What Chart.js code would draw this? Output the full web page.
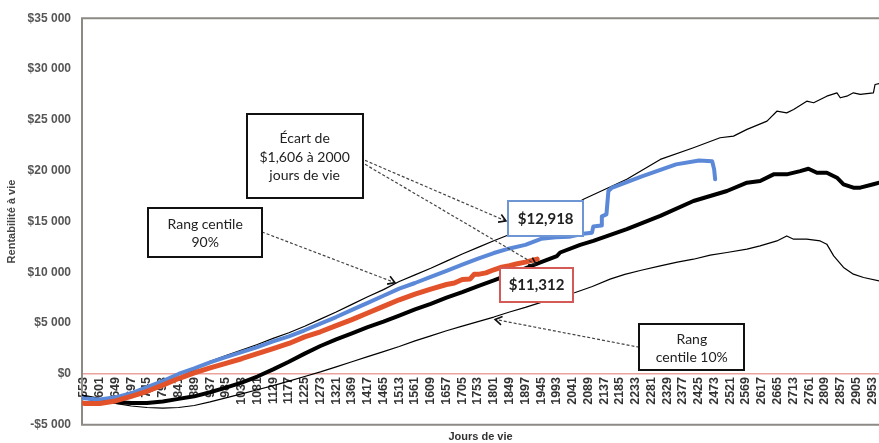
<!DOCTYPE html>
<html><head><meta charset="utf-8">
<script src="https://cdn.jsdelivr.net/npm/chart.js@4"></script>
<style>html,body{margin:0;padding:0;background:#fff;}#wrap{width:879px;height:443px;position:relative;}</style>
</head><body><div id="wrap"><canvas id="c"></canvas></div>
<script>
// ---------- data ----------
const xTickLabels = [553,601,649,697,745,793,841,889,937,985,1033,1081,1129,1177,1225,1273,1321,1369,1417,1465,1513,1561,1609,1657,1705,1753,1801,1849,1897,1945,1993,2041,2089,2137,2185,2233,2281,2329,2377,2425,2473,2521,2569,2617,2665,2713,2761,2809,2857,2905,2953];
const yTickValues = [-5000,0,5000,10000,15000,20000,25000,30000,35000];

const medianDays = [547,553,601,649,697,745,793,841,889,937,985,1033,1081,1129,1177,1225,1273,1321,1369,1417,1465,1513,1561,1609,1657,1705,1753,1801,1849,1897,1945,1993,2003,2064,2104,2206,2308,2409,2511,2572,2612,2653,2693,2734,2759,2785,2815,2846,2866,2896,2917,2957,2975];
const medianVals = [-2250,-2300,-2600,-2750,-2850,-2850,-2700,-2450,-2200,-1800,-1350,-850,-250,450,1200,2000,2750,3400,4000,4600,5150,5750,6350,6900,7500,8050,8650,9200,9800,10400,11000,11600,11950,12700,13090,14240,15550,17020,18000,18820,18990,19640,19640,19960,20190,19800,19800,19310,18660,18330,18330,18660,18820];

const p90Days = [547,553,601,649,697,745,793,841,889,937,985,1033,1081,1129,1177,1225,1273,1321,1369,1417,1465,1513,1561,1609,1657,1705,1753,1801,1851,1897,1945,2000,2040,2074,2206,2308,2409,2490,2531,2572,2633,2663,2693,2714,2754,2775,2795,2815,2846,2856,2876,2896,2917,2957,2962,2975];
const p90Vals = [-2050,-2100,-2400,-2500,-2300,-1900,-1200,-400,400,1250,1800,2350,2900,3500,4050,4700,5400,6100,6850,7600,8300,9100,9750,10400,11100,11800,12450,13100,13750,14400,15100,15900,16500,17190,19150,21110,22260,23240,23400,24060,24870,25850,25690,26020,26840,26680,27000,27330,27660,27170,27330,27660,27500,27660,28480,28580];

const p10Days = [547,553,601,649,697,745,793,841,889,937,985,1033,1081,1129,1177,1225,1273,1321,1369,1417,1465,1513,1561,1609,1657,1705,1753,1801,1849,1897,1945,1993,2049,2101,2155,2200,2250,2308,2360,2409,2460,2511,2572,2612,2663,2693,2714,2754,2795,2815,2836,2866,2896,2927,2975];
const p10Vals = [-2150,-2200,-2600,-2900,-3150,-3300,-3350,-3300,-3100,-2750,-2350,-1950,-1550,-1150,-700,-250,200,700,1200,1700,2200,2700,3250,3750,4250,4700,5150,5600,6100,6550,7050,7500,8020,8600,9330,9800,10200,10640,11000,11290,11700,11950,12280,12600,13090,13580,13260,13260,13090,12770,11620,10480,9820,9490,9160];

const blueDays = [547,553,601,649,697,745,793,841,889,937,985,1033,1081,1129,1177,1225,1273,1321,1369,1417,1465,1513,1561,1609,1657,1705,1753,1801,1849,1897,1945,1990,2030,2073,2100,2104,2128,2130,2144,2150,2160,2252,2356,2426,2466,2472,2475];
const blueVals = [-2350,-2400,-2500,-2300,-1900,-1300,-700,0,550,1150,1650,2150,2650,3200,3700,4300,4950,5600,6300,7000,7700,8400,8950,9550,10150,10750,11350,11900,12350,12700,13300,13450,13500,13800,13900,14500,14600,15500,15700,18000,18300,19440,20620,21010,20920,20130,19150];

const redDays = [547,553,601,649,697,745,793,841,889,937,985,1033,1081,1129,1177,1225,1273,1321,1369,1417,1465,1513,1561,1609,1657,1681,1705,1729,1741,1753,1777,1801,1825,1849,1873,1897,1921,1933];
const redVals = [-2850,-2900,-2900,-2650,-2200,-1700,-1100,-450,100,600,1050,1500,2000,2500,3000,3650,4150,4750,5350,6000,6650,7300,7850,8350,8800,8950,9300,9350,9800,9800,9950,10250,10500,10650,10850,11000,11200,11300];

// ---------- annotations (data coordinates) ----------
const annoBoxes = [
  {lines:['Écart de','$1,606 à 2000','jours de vie'], day:1225, val:21400, w:116, h:84, color:'#111', bold:false},
  {lines:['Rang centile','90%'], day:922, val:13924, w:114, h:49, color:'#111', bold:false},
  {lines:['$12,918'], day:1959, val:15293, w:75, h:35, color:'#6f96d4', bold:true},
  {lines:['$11,312'], day:1931, val:8790, w:73, h:34, color:'#d45a58', bold:true},
  {lines:['Rang','centile 10%'], day:2404, val:2628, w:105, h:46, color:'#111', bold:false}
];
const annoArrows = [
  {from:[1409,21015], to:[1838,15049]},
  {from:[1409,20624], to:[1930,10746]},
  {from:[1095,13973], to:[1500,8985]},
  {from:[2244,2628], to:[1805,5367]}
];

function pts(d,v){return d.map((x,i)=>({x:x,y:v[i]}));}
function money(v){
  const a=Math.abs(v); let s=String(a);
  if(a>=1000){s=s.slice(0,s.length-3)+' '+s.slice(-3);}
  return (v<0?'-$':'$')+s;
}

const framePlugin = {
  id:'frame',
  beforeDatasetsDraw(chart){
    const {ctx, chartArea:a} = chart;
    ctx.save();
    ctx.strokeStyle='#8d8a86'; ctx.lineWidth=2;
    ctx.beginPath();
    ctx.moveTo(a.right+2,a.top); ctx.lineTo(a.left,a.top); ctx.lineTo(a.left,a.bottom); ctx.lineTo(a.right+2,a.bottom);
    ctx.stroke();
    // x title
    ctx.fillStyle='#333'; ctx.font='bold 11px "Liberation Sans"'; ctx.textAlign='center'; ctx.textBaseline='middle';
    ctx.fillText('Jours de vie',(a.left+a.right)/2,437);
    ctx.restore();
  },
  afterDraw(chart){
    const {ctx, scales:{x,y}} = chart;
    ctx.save();
    // arrows
    annoArrows.forEach(ar=>{
      const x1=x.getPixelForValue(ar.from[0]), y1=y.getPixelForValue(ar.from[1]);
      const x2=x.getPixelForValue(ar.to[0]), y2=y.getPixelForValue(ar.to[1]);
      ctx.strokeStyle='#444'; ctx.lineWidth=1.2; ctx.setLineDash([3,2]);
      ctx.beginPath(); ctx.moveTo(x1,y1); ctx.lineTo(x2,y2); ctx.stroke();
      ctx.setLineDash([]);
      const ang=Math.atan2(y2-y1,x2-x1), L=8, sp=0.55;
      ctx.strokeStyle='#111'; ctx.lineWidth=1.6;
      ctx.beginPath();
      ctx.moveTo(x2-L*Math.cos(ang-sp), y2-L*Math.sin(ang-sp));
      ctx.lineTo(x2,y2);
      ctx.lineTo(x2-L*Math.cos(ang+sp), y2-L*Math.sin(ang+sp));
      ctx.stroke();
    });
    // boxes
    annoBoxes.forEach(b=>{
      const cx=x.getPixelForValue(b.day), cy=y.getPixelForValue(b.val);
      const l=Math.round(cx-b.w/2), t=Math.round(cy-b.h/2);
      ctx.fillStyle='#fff'; ctx.fillRect(l,t,b.w,b.h);
      ctx.strokeStyle=b.color; ctx.lineWidth=2; ctx.strokeRect(l,t,b.w,b.h);
      ctx.fillStyle='#222'; ctx.textAlign='center'; ctx.textBaseline='middle';
      ctx.font=(b.bold?'bold 15px':'14px')+' Lato';
      const lh=b.bold?18:18.5;
      const n=b.lines.length;
      b.lines.forEach((s,i)=>{ ctx.fillText(s, cx, cy+(i-(n-1)/2)*lh+1); });
    });
    ctx.restore();
  }
};

const ds = (label,d,v,color,w)=>({label,data:pts(d,v),borderColor:color,backgroundColor:color,borderWidth:w,pointRadius:0,tension:0,fill:false,borderJoinStyle:'round',borderCapStyle:'round'});

new Chart(document.getElementById('c'),{
  type:'line',
  data:{datasets:[
    ds('Cohorte B',redDays,redVals,'#e2532c',5),
    ds('Cohorte A',blueDays,blueVals,'#5b89d8',4),
    ds('Médiane',medianDays,medianVals,'#000',4),
    ds('Rang centile 90%',p90Days,p90Vals,'#000',1.2),
    ds('Rang centile 10%',p10Days,p10Vals,'#000',1.2)
  ]},
  options:{
    responsive:true, maintainAspectRatio:false, animation:false, devicePixelRatio:1,
    layout:{padding:{top:17,bottom:17,left:0,right:0}},
    plugins:{legend:{display:false},tooltip:{enabled:false}},
    scales:{
      x:{type:'linear',min:547,max:2974,position:{y:0},
        grid:{display:false,drawTicks:false},
        border:{display:true,color:'#eaa39c',width:1.5},
        afterBuildTicks(s){s.ticks=xTickLabels.map(v=>({value:v}));},
        afterFit(s){s.height=0;s.paddingLeft=0;s.paddingRight=0;},
        ticks:{autoSkip:false,minRotation:90,maxRotation:90,padding:3,color:'#333',font:{family:'Liberation Sans',size:12.5,weight:'bold'},callback:v=>String(v)}
      },
      y:{min:-5000,max:35000,
        grid:{display:false,drawTicks:false},border:{display:false},
        afterBuildTicks(s){s.ticks=yTickValues.map(v=>({value:v}));},
        afterFit(s){s.width=82;},
        ticks:{padding:11,color:'#555',font:{family:'Liberation Sans',size:12,weight:'bold'},callback:v=>money(v)},
        title:{display:true,text:'Rentabilité à vie',color:'#444',font:{family:'Liberation Sans',size:11,weight:'bold'},padding:{top:5,bottom:0}}
      }
    }
  },
  plugins:[framePlugin]
});
</script></body></html>
